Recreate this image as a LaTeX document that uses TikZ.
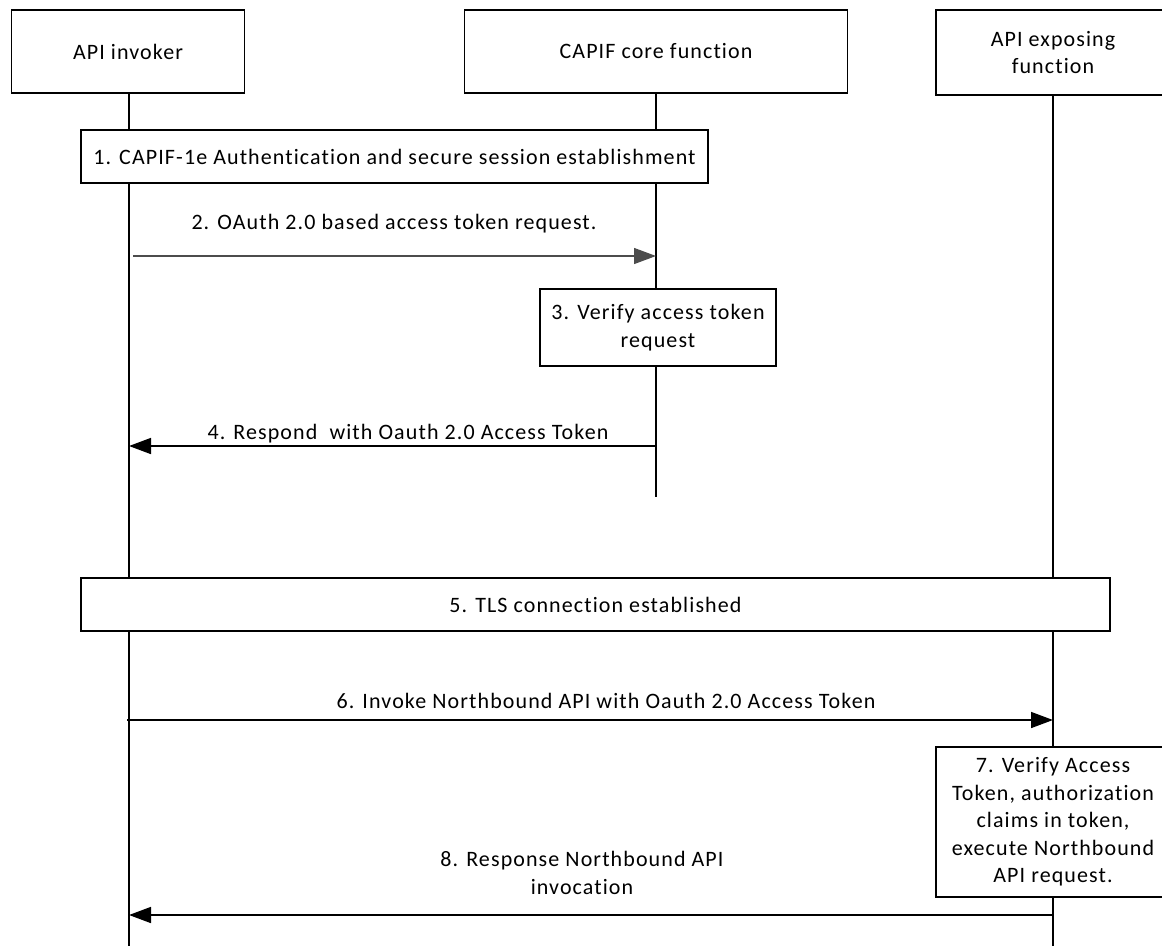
\documentclass[tikz,border=0pt]{standalone}
\usepackage{fontspec}
\setmainfont{Carlito}[LetterSpace=5,Ligatures={NoCommon}]
\usetikzlibrary{arrows.meta}
\begin{document}
\begin{tikzpicture}[x=1pt,y=-1pt,
  box/.style={draw=black,line width=1.6pt,fill=white,inner sep=0pt,align=center,font=\fontsize{22}{27.5}\selectfont},
  life/.style={draw=black,line width=1.6pt},
  msg/.style={line width=1.6pt,-{Triangle[length=22pt,width=16pt]}},
  lbl/.style={font=\fontsize{22}{27.5}\selectfont,inner sep=0pt,align=center}]
\useasboundingbox (0,0) rectangle (1162,946);
% lifeline coordinates
\coordinate (invEnd) at (129,946);
\coordinate (capEnd) at (656,497);
\coordinate (expEnd) at (1053,946);
% participant heads
\node[box,minimum width=233pt,minimum height=83pt] (inv) at (128,51.5) {API invoker};
\node[box,minimum width=383pt,minimum height=83pt] (cap) at (656,51.5) {CAPIF core function};
\node[box,minimum width=234pt,minimum height=85pt] (exp) at (1053,52.5) {API exposing\\function};
% lifelines
\draw[life] (inv.south -| invEnd) -- (invEnd);
\draw[life] (cap.south) -- (capEnd);
\draw[life] (exp.south) -- (expEnd);
% step boxes
\node[box,minimum width=627pt,minimum height=53pt] (s1) at (394.5,156.5) {1. CAPIF-1e Authentication and secure session establishment};
\node[box,minimum width=236pt,minimum height=77pt] (s3) at (658,327.5) {3. Verify access token\\request};
\node[box,minimum width=1029pt,minimum height=53pt] (s5) at (595.5,604.5) {5. TLS connection established};
\node[box,minimum width=234pt,minimum height=150pt] (s7) at (1053,822) {7. Verify Access\\Token, authorization\\claims in token,\\execute Northbound\\API request.};
% message anchors on lifelines
\coordinate (a2s) at (133,256);
\coordinate (a2e) at (656,256);
\coordinate (a4s) at (656,446);
\coordinate (a4e) at (129,446);
\coordinate (a6s) at (127,720);
\coordinate (a6e) at (1053,720);
\coordinate (a8s) at (1053,915);
\coordinate (a8e) at (129,915);
% messages
\draw[msg,draw=black!70,fill=black!70,line width=1.3pt] (a2s) -- (a2e);
\draw[msg] (a4s) -- (a4e);
\draw[msg] (a6s) -- (a6e);
\draw[msg] (a8s) -- (a8e);
% labels
\node[lbl] (l2) at (394,224) {2. OAuth 2.0 based access token request.};
\node[lbl] (l4) at (408,434) {4. Respond\ \ with Oauth 2.0 Access Token};
\node[lbl] (l6) at (606,701) {6. Invoke Northbound API with Oauth 2.0 Access Token};
\node[lbl] (l8) at (582,873) {8. Response Northbound API\\invocation};
\end{tikzpicture}
\end{document}
